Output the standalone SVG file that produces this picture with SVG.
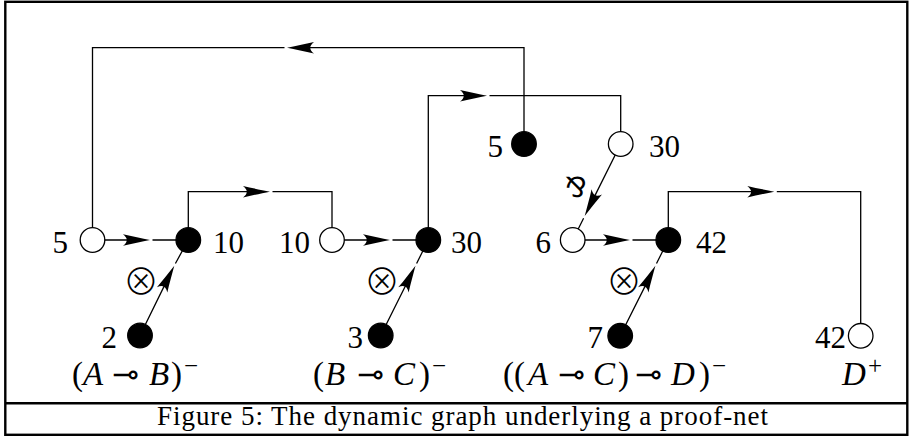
<svg xmlns="http://www.w3.org/2000/svg" xmlns:xlink="http://www.w3.org/1999/xlink" width="912" height="437" viewBox="0 0 912 437">
<style>
.frame{fill:none;stroke:#000;stroke-width:2.4}
.ln{fill:none;stroke:#000;stroke-width:1.3}
.open{fill:#fff;stroke:#000;stroke-width:1.3}
.full{fill:#000;stroke:#000;stroke-width:1.3}
.lbl{font-family:"Liberation Serif","Times New Roman",serif;font-size:31px;fill:#000}
.math{font-family:"Liberation Serif","Times New Roman",serif;font-size:33px;fill:#000}
.it{font-style:italic}
.sym{font-family:"DejaVu Sans",sans-serif;font-size:32px}
.sup{font-size:25px}
.op{font-family:"Noto Sans CJK JP","DejaVu Sans",sans-serif;font-weight:300;font-size:36px;fill:#000}
.par{font-family:"DejaVu Sans",sans-serif;font-size:28px;fill:#000}
.cap{font-family:"Liberation Serif","Times New Roman",serif;font-size:27px;fill:#000}
</style>
<defs>
<path id="ah" d="M0,0 C-8,-1.6 -18,-3.6 -27,-5.8 C-22,-2 -22,2 -27,5.8 C-18,3.6 -8,1.6 0,0 Z" fill="#000"/>
</defs>
<rect class="frame" x="5.3" y="1.8" width="902" height="433"/>
<line class="frame" x1="5.3" y1="403.3" x2="907.3" y2="403.3"/>
<g id="connectors">
<path class="ln" d="M524,144 V47.7 H297 M284.5,47.7 H92.5 V240"/>
<use xlink:href="#ah" href="#ah" transform="translate(287,47.7) rotate(180)"/>
<path class="ln" d="M428.3,240 V95.7 H477 M489.5,95.7 H620.7 V144"/>
<use xlink:href="#ah" href="#ah" transform="translate(487,95.7)"/>
<path class="ln" d="M188.3,240 V191.7 H260 M272.5,191.7 H332 V240"/>
<use xlink:href="#ah" href="#ah" transform="translate(270,191.7)"/>
<path class="ln" d="M668.3,240 V191.7 H764 M776.8,191.7 H860.7 V335.8"/>
<use xlink:href="#ah" href="#ah" transform="translate(774.3,191.7)"/>
<path class="ln" d="M92.5,240 H140 M152.5,240 H188.3"/>
<use xlink:href="#ah" href="#ah" transform="translate(150,240)"/>
<path class="ln" d="M332,240 H380 M392.5,240 H428.3"/>
<use xlink:href="#ah" href="#ah" transform="translate(390,240)"/>
<path class="ln" d="M572.7,240 H620 M632.5,240 H668.3"/>
<use xlink:href="#ah" href="#ah" transform="translate(630,240)"/>
<path class="ln" d="M140,335.5 L169.8,274.6 M175.4,263.5 L188.3,240"/>
<use xlink:href="#ah" href="#ah" transform="translate(174.3,265.7) rotate(-63.2)"/>
<path class="ln" d="M380.7,335.5 L411,274.7 M416.6,263.5 L428.3,240"/>
<use xlink:href="#ah" href="#ah" transform="translate(415.5,265.7) rotate(-63.5)"/>
<path class="ln" d="M620.2,335.8 L650.9,274.6 M656.5,263.5 L668.3,240"/>
<use xlink:href="#ah" href="#ah" transform="translate(655.4,265.7) rotate(-63.3)"/>
<path class="ln" d="M620.7,144 L589.2,207.1 M583.6,218.2 L572.7,240"/>
<use xlink:href="#ah" href="#ah" transform="translate(584.7,216) rotate(116.6)"/>
</g>
<g id="n5top"><circle class="full" cx="524" cy="144" r="12.3"/><text class="lbl" x="503" y="156.5" text-anchor="end">5</text></g>
<g id="n30top"><circle class="open" cx="620.7" cy="144" r="12.3"/><text class="lbl" x="649" y="156.5">30</text></g>
<g id="n5"><circle class="open" cx="92.5" cy="240" r="12.3"/><text class="lbl" x="68" y="253" text-anchor="end">5</text></g>
<g id="n10a"><circle class="full" cx="188.3" cy="240" r="12.3"/><text class="lbl" x="213" y="253">10</text></g>
<g id="n10b"><circle class="open" cx="332" cy="240" r="12.3"/><text class="lbl" x="310" y="253" text-anchor="end">10</text></g>
<g id="n30"><circle class="full" cx="428.3" cy="240" r="12.3"/><text class="lbl" x="451" y="253">30</text></g>
<g id="n6"><circle class="open" cx="572.7" cy="240" r="12.3"/><text class="lbl" x="551" y="253" text-anchor="end">6</text></g>
<g id="n42a"><circle class="full" cx="668.3" cy="240" r="12.3"/><text class="lbl" x="696" y="253">42</text></g>
<g id="n2"><circle class="full" cx="140" cy="335.5" r="12.3"/><text class="lbl" x="117" y="348" text-anchor="end">2</text>
<text class="math" y="385"><tspan x="72">(</tspan><tspan x="83" class="it">A</tspan><tspan x="112" class="sym">⊸</tspan><tspan x="149" class="it">B</tspan><tspan x="171">)</tspan><tspan x="184" class="sup" dy="-11">−</tspan></text></g>
<g id="n3"><circle class="full" cx="380.7" cy="335.5" r="12.3"/><text class="lbl" x="363" y="348" text-anchor="end">3</text>
<text class="math" y="385"><tspan x="313">(</tspan><tspan x="325" class="it">B</tspan><tspan x="357" class="sym">⊸</tspan><tspan x="393" class="it">C</tspan><tspan x="419">)</tspan><tspan x="432" class="sup" dy="-11">−</tspan></text></g>
<g id="n7"><circle class="full" cx="620.2" cy="335.8" r="12.3"/><text class="lbl" x="603" y="348" text-anchor="end">7</text>
<text class="math" y="385"><tspan x="503">((</tspan><tspan x="528" class="it">A</tspan><tspan x="558" class="sym">⊸</tspan><tspan x="593" class="it">C</tspan><tspan x="618">)</tspan><tspan x="635" class="sym">⊸</tspan><tspan x="671" class="it">D</tspan><tspan x="699">)</tspan><tspan x="712" class="sup" dy="-11">−</tspan></text></g>
<g id="n42b"><circle class="open" cx="860.7" cy="335.8" r="12.3"/><text class="lbl" x="846" y="348" text-anchor="end">42</text>
<text class="math" y="385"><tspan x="842" class="it">D</tspan><tspan x="868" class="sup" dy="-11">+</tspan></text></g>
<g id="ops">
<text class="op" x="141" y="295" text-anchor="middle">⊗</text>
<text class="op" x="382" y="295" text-anchor="middle">⊗</text>
<text class="op" x="624" y="295" text-anchor="middle">⊗</text>
<text class="par" x="576" y="197" text-anchor="middle">⅋</text>
</g>
<text class="cap" x="157" y="425" textLength="611" lengthAdjust="spacing">Figure 5: The dynamic graph underlying a proof-net</text>
</svg>
